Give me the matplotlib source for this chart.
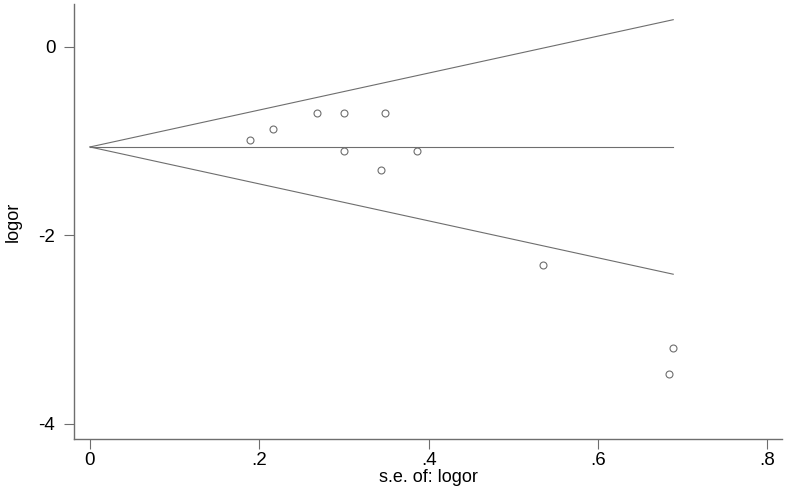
import numpy as np
import matplotlib
matplotlib.use("Agg")
import matplotlib.pyplot as plt

plt.rcParams['font.family'] = ['Liberation Sans', 'DejaVu Sans']

# study standard errors and log odds ratios
se = [0.189, 0.216, 0.268, 0.300, 0.348, 0.300, 0.386, 0.344, 0.535, 0.689, 0.684]
logor = [-0.99, -0.87, -0.70, -0.70, -0.70, -1.10, -1.10, -1.31, -2.31, -3.19, -3.47]

pooled = -1.061   # fixed-effect estimate
z = 1.96

xticks = [0, 0.2, 0.4, 0.6, 0.8]
xticklabels = ["0", ".2", ".4", ".6", ".8"]
yticks = [0, -2, -4]
yticklabels = ["0", "-2", "-4"]

grey = "#6e6e6e"

fig = plt.figure(figsize=(7.88, 4.92), dpi=100)
ax = fig.add_axes([74 / 788, 53 / 492, 708 / 788, 435 / 492])

# pseudo 95% confidence limits
s = np.linspace(0, max(se), 50)
ax.plot(s, pooled + z * s, color=grey, lw=0.8)
ax.plot(s, pooled - z * s, color=grey, lw=0.8)
ax.plot([0, max(se)], [pooled, pooled], color=grey, lw=0.8)

ax.plot(se, logor, linestyle="none", marker="o", markersize=5,
        markerfacecolor="none", markeredgecolor=grey, markeredgewidth=0.8)

ax.set_xlim(-0.0189, 0.8175)
ax.set_ylim(-4.16, 0.456)
ax.set_xticks(xticks)
ax.set_xticklabels(xticklabels)
ax.set_yticks(yticks)
ax.set_yticklabels(yticklabels)

for side in ["top", "right"]:
    ax.spines[side].set_visible(False)
for side in ["left", "bottom"]:
    ax.spines[side].set_color(grey)
    ax.spines[side].set_linewidth(1.0)

ax.tick_params(direction="out", length=7.5, width=0.8, color=grey,
               labelsize=13.5)
ax.tick_params(axis="x", pad=2)
ax.tick_params(axis="y", pad=6)

ax.set_xlabel("s.e. of: logor", fontsize=13, labelpad=0)
ax.set_ylabel("logor", fontsize=13, labelpad=12)

fig.savefig("out.png", dpi=100)
